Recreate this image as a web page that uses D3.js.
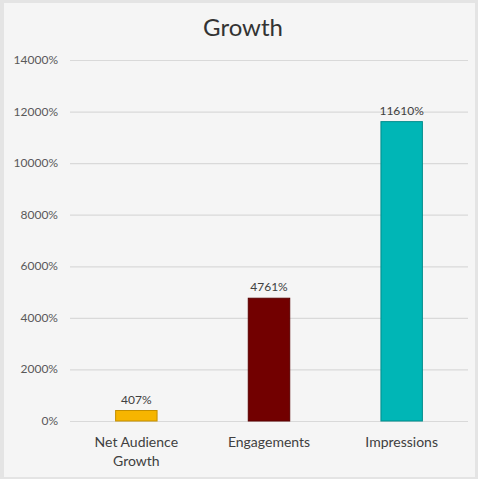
<!DOCTYPE html>
<html><head><meta charset="utf-8">
<script src="https://cdn.jsdelivr.net/npm/d3@7"></script>
<style>body{margin:0;background:#fff}svg{display:block}</style>
</head><body>
<script>
const categories = [["Net Audience","Growth"],["Engagements"],["Impressions"]];
const values = [407, 4761, 11610];
const valueLabels = ["407%","4761%","11610%"];
const tickValues = [0,2000,4000,6000,8000,10000,12000,14000];
const fills = ["#f6b500","#720000","#00b6b6"];
const strokes = ["#c48f00","#5a0000","#008c8c"];

const W=478,H=479;
const svg=d3.select("body").append("svg").attr("width",W).attr("height",H);
svg.append("rect").attr("x",0).attr("y",0).attr("width",W).attr("height",H).attr("fill","#e4e4e4");
svg.append("rect").attr("x",4).attr("y",3).attr("width",W-7).attr("height",H-5).attr("fill","#f5f5f5");
const font="Lato, 'Open Sans', sans-serif";
svg.append("text").attr("x",243).attr("y",36).attr("text-anchor","middle")
  .attr("font-family",font).attr("font-size",24).attr("fill","#333").text("Growth");

const x=d3.scaleBand().domain(d3.range(categories.length)).range([70,468]).paddingInner(0.68).paddingOuter(0.34);
const y=d3.scaleLinear().domain([0,14000]).range([421,60]);

const g=svg.append("g");
g.selectAll("line.grid").data(tickValues).join("line")
  .attr("x1",70).attr("x2",468).attr("y1",d=>y(d)+0.5).attr("y2",d=>y(d)+0.5)
  .attr("stroke","#d9d9d9").attr("stroke-width",1.2);
g.selectAll("text.tick").data(tickValues).join("text")
  .attr("x",58).attr("y",d=>y(d)+4).attr("text-anchor","end")
  .attr("font-family",font).attr("font-size",12).attr("fill","#595959").text(d=>d+"%");

g.selectAll("rect.bar").data(values).join("rect")
  .attr("x",(d,i)=>x(i)+0.5).attr("width",x.bandwidth()-1)
  .attr("y",d=>y(d)).attr("height",d=>y(0)-y(d))
  .attr("fill",(d,i)=>fills[i]).attr("stroke",(d,i)=>strokes[i]).attr("stroke-width",1);

g.selectAll("text.vl").data(values).join("text")
  .attr("x",(d,i)=>x(i)+x.bandwidth()/2).attr("y",d=>y(d)-7).attr("text-anchor","middle")
  .attr("font-family",font).attr("font-size",12).attr("fill","#404040").text((d,i)=>valueLabels[i]);

categories.forEach((c,i)=>{
  const t=g.append("text").attr("x",x(i)+x.bandwidth()/2).attr("y",447).attr("text-anchor","middle")
    .attr("font-family",font).attr("font-size",14).attr("fill","#404040");
  c.forEach((line,j)=>t.append("tspan").attr("x",x(i)+x.bandwidth()/2).attr("dy",j?19:0).text(line));
});
</script>
</body></html>
